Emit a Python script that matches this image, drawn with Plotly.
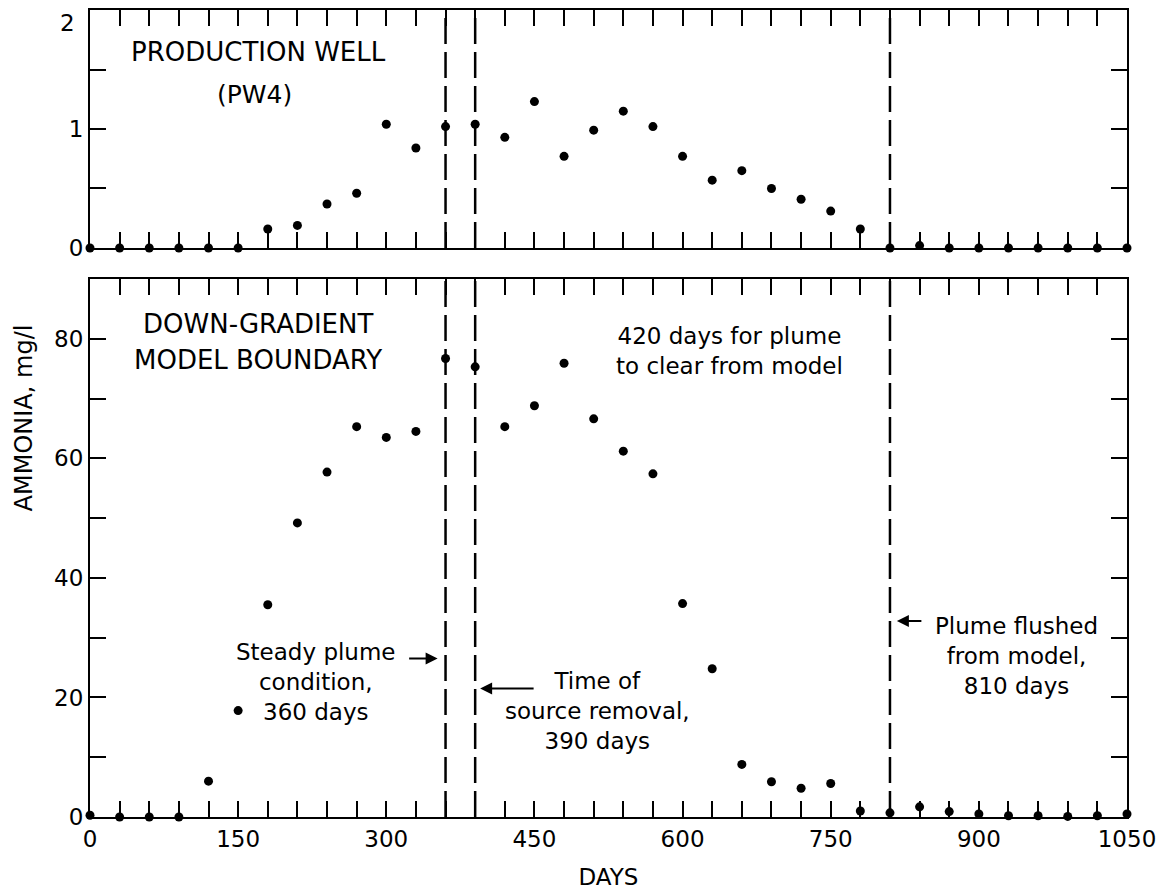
import plotly.graph_objects as go

# Sampling days (every 30 days)
days = list(range(0, 1051, 30))

# Ammonia at production well PW4, mg/l
pw4_ammonia = [0, 0, 0, 0, 0, 0,
               0.16, 0.19, 0.37, 0.46, 1.04, 0.84, 1.02, 1.04, 0.93, 1.23, 0.77,
               0.99, 1.15, 1.02, 0.77, 0.57, 0.65, 0.50, 0.41, 0.31, 0.16,
               0, 0.02, 0, 0, 0, 0, 0, 0, 0]

# Ammonia at the down-gradient model boundary, mg/l
boundary_ammonia = [0.3, 0, 0, 0, 6.0, 17.8, 35.5, 49.2, 57.7, 65.3, 63.5, 64.5,
                    76.7, 75.3, 65.3, 68.8, 75.9, 66.6, 61.2, 57.4, 35.7, 24.8,
                    8.8, 5.9, 4.8, 5.6, 1.0, 0.7, 1.7, 0.9, 0.5, 0.2, 0.2, 0.1,
                    0.2, 0.5]

# Event markers (days)
event_days = [360, 390, 810]

x_tick_vals = [0, 150, 300, 450, 600, 750, 900, 1050]

FONT = "DejaVu Sans"
INK = "black"
DASH = "26px,8px"

fig = go.Figure()

marker = dict(color=INK, size=9, symbol="circle")
fig.add_trace(go.Scatter(x=days, y=boundary_ammonia, mode="markers", marker=marker,
                         xaxis="x", yaxis="y", cliponaxis=False, showlegend=False))
fig.add_trace(go.Scatter(x=days, y=pw4_ammonia, mode="markers", marker=marker,
                         xaxis="x2", yaxis="y2", cliponaxis=False, showlegend=False))

common_x = dict(range=[0, 1050], showline=True, linecolor=INK, linewidth=2,
                mirror="ticks", ticks="inside", ticklen=16, tickwidth=2,
                tickcolor=INK, showgrid=False, zeroline=False, automargin=False,
                tickvals=x_tick_vals,
                minor=dict(dtick=30, tick0=0, ticks="inside", ticklen=16,
                           tickwidth=2, tickcolor=INK, showgrid=False))
common_y = dict(showline=True, linecolor=INK, linewidth=2, mirror="ticks",
                ticks="inside", ticklen=16, tickwidth=2, tickcolor=INK,
                showgrid=False, zeroline=False, automargin=False)

fig.update_layout(
    width=1172, height=892,
    margin=dict(l=90, r=45, t=10, b=75),
    paper_bgcolor="white", plot_bgcolor="white",
    font=dict(family=FONT, size=23, color=INK),
    xaxis=dict(**common_x, anchor="y", domain=[0, 1],
               title=dict(text="DAYS", font=dict(size=23), standoff=18)),
    yaxis=dict(**common_y, domain=[0, 0.6667], range=[0, 90],
               tickvals=[0, 20, 40, 60, 80],
               minor=dict(tickvals=[10, 30, 50, 70], ticks="inside", ticklen=16,
                          tickwidth=2, tickcolor=INK, showgrid=False)),
    xaxis2=dict(**common_x, anchor="y2", matches="x", showticklabels=False),
    yaxis2=dict(**common_y, domain=[0.7051, 1], range=[0, 2],
                tickvals=[0, 1, 2], ticktext=["0", "1", ""],
                minor=dict(tickvals=[0.5, 1.5], ticks="inside", ticklen=16,
                           tickwidth=2, tickcolor=INK, showgrid=False)),
)

# Top-of-scale label for the upper panel, set just below the frame edge
fig.add_annotation(text="2", xref="paper", yref="y2", x=-0.0125, y=1.89,
                   xanchor="right", yanchor="middle", showarrow=False,
                   font=dict(family=FONT, size=23, color=INK))

# Dashed event lines in both panels
for d in event_days:
    fig.add_shape(type="line", xref="x", yref="y", x0=d, x1=d, y0=0, y1=90,
                  line=dict(color=INK, width=2.5, dash=DASH))
    fig.add_shape(type="line", xref="x2", yref="y2", x0=d, x1=d, y0=0, y1=2,
                  line=dict(color=INK, width=2.5, dash=DASH))

def label(text, x, y, xref="x", yref="y", size=23):
    fig.add_annotation(text=text, x=x, y=y, xref=xref, yref=yref, showarrow=False,
                       xanchor="center", yanchor="middle", align="center",
                       font=dict(family=FONT, size=size, color=INK))

def arrow(x, y, ax):
    fig.add_annotation(text="", x=x, y=y, xref="x", yref="y", ax=ax, ay=0,
                       showarrow=True, arrowhead=2, arrowsize=1.2, arrowwidth=2,
                       arrowcolor=INK)

# Panel captions
label("PRODUCTION WELL", 171, 1.645, "x2", "y2", 26)
label("(PW4)", 167, 1.29, "x2", "y2", 25)
label("DOWN-GRADIENT", 170, 82.5, size=26)
label("MODEL BOUNDARY", 170, 76.5, size=26)

# Event notes
label("420 days for plume<br>to clear from model", 648, 78)
label("Steady plume<br>condition,<br>360 days", 229, 22.5)
arrow(352, 26.5, -30)
label("Time of<br>source removal,<br>390 days", 514, 17.7)
arrow(395, 21.5, 55)
label("Plume flushed<br>from model,<br>810 days", 938, 27)
arrow(817, 32.8, 26)

# Shared y-axis title
fig.add_annotation(text="AMMONIA, mg/l", xref="paper", yref="paper",
                   x=-0.0636, y=0.494, textangle=-90, showarrow=False,
                   xanchor="center", yanchor="middle",
                   font=dict(family=FONT, size=24, color=INK))

fig.write_html("out.html")
